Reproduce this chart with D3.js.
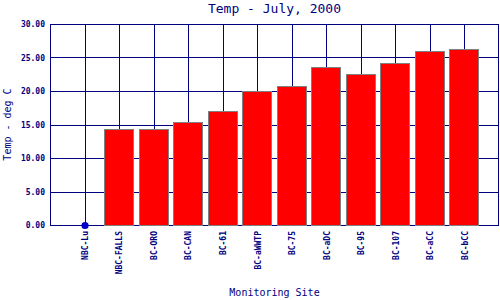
<!DOCTYPE html>
<html>
<head>
<meta charset="utf-8">
<script src="https://cdn.jsdelivr.net/npm/d3@7"></script>
<style>
  body { margin: 0; background: #fff; }
  text { font-family: "DejaVu Sans Mono", monospace; fill: #000080; }
  .tick-label { font-size: 8px; font-weight: bold; }
</style>
</head>
<body>
<div id="chart"></div>
<script>
// sites along the x axis
const sites = ['NBC-Lu', 'NBC-FALLS', 'BC-ORO', 'BC-CAN', 'BC-61', 'BC-aWWTP',
               'BC-75', 'BC-aDC', 'BC-95', 'BC-107', 'BC-aCC', 'BC-bCC'];
// temperature in deg C (NBC-Lu has no bar, only a marker at 0)
const temps = [0, 14.33, 14.33, 15.37, 17.03, 20.0, 20.72, 23.6, 22.57, 24.2, 25.97, 26.27];
const yTicks = [0, 5, 10, 15, 20, 25, 30];

let width = 500, height = 300;
const margin = {top: 24, right: 1, bottom: 75, left: 50};
const innerwidth = width - margin.left - margin.right;
const innerheight = height - margin.top - margin.bottom;

const svg = d3.select('#chart')
    .append('svg')
    .attr('width', width)
    .attr('height', height);

const g = svg.append('g')
    .attr('transform', 'translate(' + margin.left + ',' + margin.top + ')');

const xscale = d3.scalePoint()
    .domain(sites)
    .range([0, innerwidth])
    .padding(1);

const yscale = d3.scaleLinear()
    .domain([0, 30])
    .range([innerheight, 0]);

const crisp = v => Math.round(v) + 0.5;

// horizontal grid
g.selectAll('.hgrid')
    .data(yTicks)
    .enter()
    .append('line')
    .attr('x1', 0)
    .attr('x2', innerwidth)
    .attr('y1', d => crisp(yscale(d)))
    .attr('y2', d => crisp(yscale(d)))
    .attr('stroke', '#000080');

// vertical grid at each site, plus plot edges
const vx = [0].concat(sites.map(d => xscale(d))).concat([innerwidth - 1]);
g.selectAll('.vgrid')
    .data(vx)
    .enter()
    .append('line')
    .attr('x1', d => crisp(d))
    .attr('x2', d => crisp(d))
    .attr('y1', crisp(0))
    .attr('y2', crisp(innerheight))
    .attr('stroke', '#000080');

// bars
const barW = 29;
const data = sites.map((s, i) => ({site: s, value: temps[i]}));

g.selectAll('rect.bar')
    .data(data.filter(d => d.value > 0))
    .enter()
    .append('rect')
    .attr('class', 'bar')
    .attr('x', d => Math.round(xscale(d.site) - 15) + 0.5)
    .attr('y', d => Math.round(yscale(d.value)) + 0.5)
    .attr('width', barW)
    .attr('height', d => Math.round(innerheight) - Math.round(yscale(d.value)))
    .attr('fill', '#ff0000')
    .attr('stroke', '#808080');

// marker for the zero value
g.selectAll('circle')
    .data(data.filter(d => d.value === 0))
    .enter()
    .append('circle')
    .attr('cx', d => xscale(d.site) + 0.5)
    .attr('cy', d => yscale(d.value) + 0.5)
    .attr('r', 3.6)
    .attr('fill', '#0000cc');

// y axis labels
const yaxisG = g.append('g')
    .call(d3.axisLeft(yscale).tickValues(yTicks).tickFormat(d3.format('.2f')).tickSize(0).tickPadding(5));
yaxisG.select('.domain').remove();
yaxisG.selectAll('text')
    .attr('class', 'tick-label')
    .attr('fill', '#000080');

// x axis labels
const xaxisG = g.append('g')
    .attr('transform', 'translate(0,' + innerheight + ')')
    .call(d3.axisBottom(xscale).tickSize(0));
xaxisG.select('.domain').remove();
xaxisG.selectAll('text')
    .attr('class', 'tick-label')
    .attr('fill', '#000080')
    .attr('transform', 'rotate(-90)')
    .attr('text-anchor', 'end')
    .attr('x', -6)
    .attr('y', 0)
    .attr('dx', 0)
    .attr('dy', '0.35em');

// title and axis titles
svg.append('text')
    .attr('x', margin.left + innerwidth / 2)
    .attr('y', 13)
    .attr('text-anchor', 'middle')
    .style('font-size', '13px')
    .text('Temp - July, 2000');

svg.append('text')
    .attr('x', margin.left + innerwidth / 2)
    .attr('y', 296)
    .attr('text-anchor', 'middle')
    .style('font-size', '10px')
    .text('Monitoring Site');

svg.append('text')
    .attr('transform', 'rotate(-90)')
    .attr('x', -(margin.top + innerheight / 2))
    .attr('y', 11)
    .attr('text-anchor', 'middle')
    .style('font-size', '10px')
    .text('Temp - deg C');
</script>
</body>
</html>
